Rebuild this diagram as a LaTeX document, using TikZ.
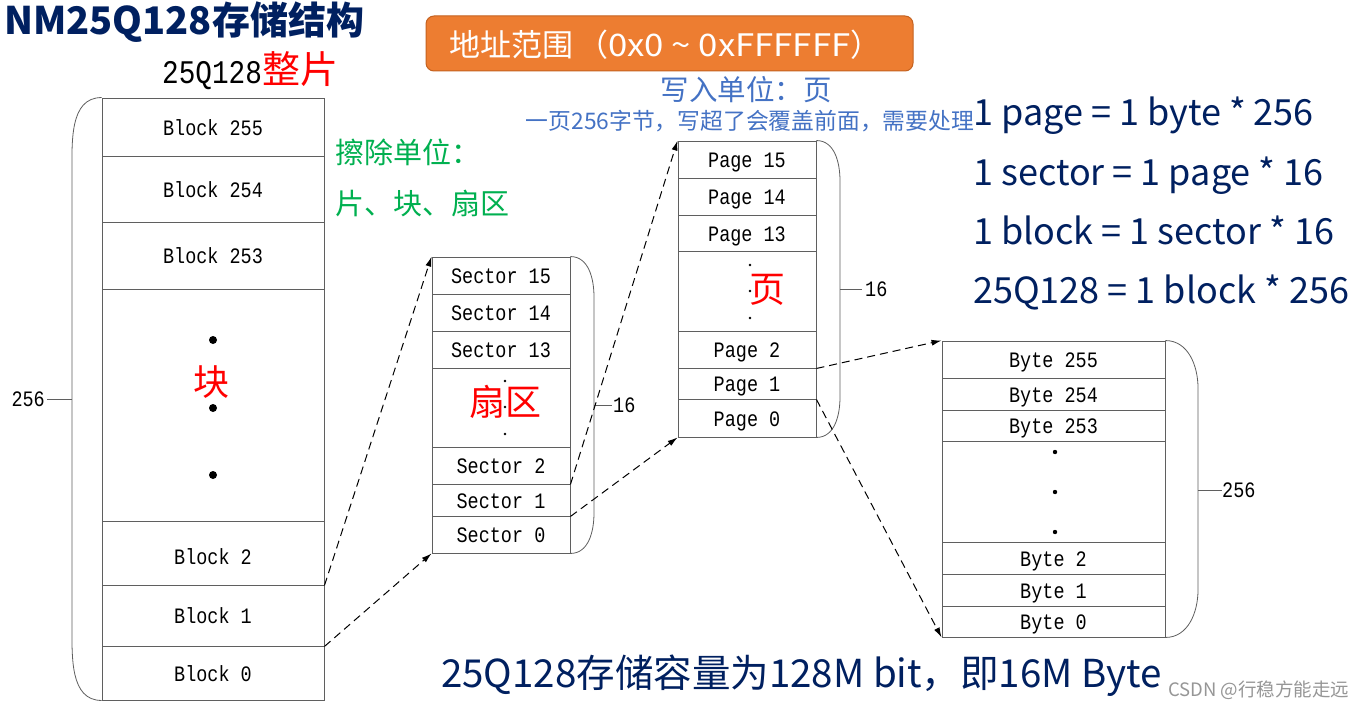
\documentclass[tikz,border=0pt]{standalone}
\usepackage{fontspec}
\setmainfont{Noto Sans CJK SC}
\newfontfamily\simsun[FakeStretch=0.84]{Liberation Mono}
\newfontfamily\widelatin[FakeStretch=1.12]{Noto Sans CJK SC}
\usetikzlibrary{arrows.meta}
\definecolor{navy}{RGB}{0,32,96}
\definecolor{orangebox}{RGB}{237,125,49}
\definecolor{orangeedge}{RGB}{196,98,32}
\definecolor{erasegreen}{RGB}{0,176,80}
\definecolor{writeblue}{RGB}{68,114,196}
\definecolor{gridc}{RGB}{95,95,95}
\definecolor{wmgray}{RGB}{150,150,150}
\newcommand\myfs[1]{\fontsize{#1}{#1}\selectfont}
\tikzset{
  cellbase/.style={draw=gridc, line width=0.9pt, inner sep=0pt, font=\simsun\myfs{22}, text height=16.8pt, text depth=0pt},
  bcell/.style={cellbase, minimum width=222pt},
  scell/.style={cellbase, minimum width=138pt},
  ycell/.style={cellbase, minimum width=223pt},
  brace/.style={draw=gridc, line width=0.8pt},
  conn/.style={dashed, dash pattern=on 8pt off 5pt, line width=1pt, -{Latex[length=10pt,width=6pt]}},
  countlbl/.style={font=\simsun\myfs{22}, inner sep=1pt},
  redlbl/.style={text=red, font=\myfs{36}, inner sep=0pt},
  formula/.style={text=navy, font=\myfs{36}, anchor=base west, inner sep=0pt}
}
\begin{document}
\begin{tikzpicture}[x=1pt,y=-1pt]
\useasboundingbox (0,0) rectangle (1365,709);
\fill[white] (0,0) rectangle (1365,709);

% title
\node[anchor=west, text=navy, font=\bfseries\myfs{38}, inner sep=0pt] (title) at (4,22) {NM25Q128存储结构};
\node[anchor=base west, inner sep=0pt] (chip) at (162,84) {{\simsun\myfs{33}25Q128}{\color{red}\myfs{38}整片}};

% address box
\node[draw=orangeedge, line width=1pt, fill=orangebox, rounded corners=8pt, minimum width=487pt, minimum height=55pt, inner sep=0pt] (addr) at (669.5,43.5) {};
\node[anchor=west, text=white, font=\myfs{31}, inner sep=0pt] (addrtxt) at (449,45) {地址范围\hspace{4pt}（{\widelatin 0x0 \textasciitilde{} 0xFFFFFF}）};

% write unit
\node[text=writeblue, font=\myfs{28.5}, inner sep=0pt] (wunit) at (746,90) {写入单位：页};
\node[text=writeblue, font=\myfs{22.8}, inner sep=0pt] (wnote) at (750,121) {一页256字节，写超了会覆盖前面，需要处理};

% erase unit
\node[anchor=west, text=erasegreen, font=\myfs{29}, inner sep=0pt] (eunit) at (335,152) {擦除单位：};
\node[anchor=west, text=erasegreen, font=\myfs{29}, inner sep=0pt] (eunits) at (335,203) {片、块、扇区};

% formulas
\node[formula] (f1) at (973,125) {1 page = 1 byte * 256};
\node[formula] (f2) at (973,185) {1 sector = 1 page * 16};
\node[formula] (f3) at (973,244) {1 block = 1 sector * 16};
\node[formula] (f4) at (973,303) {25Q128 = 1 block * 256};

% bottom
\node[anchor=west, text=navy, font=\myfs{38.5}, inner sep=0pt] (cap) at (441,676) {25Q128存储容量为128M bit，即16M Byte};
\node[anchor=west, text=wmgray, font=\myfs{18.5}, inner sep=0pt] (wm) at (1168,690) {CSDN @行稳方能走远};

% blocks
\node[bcell, minimum height=58pt] (b255) at (213,127) {Block 255};
\node[bcell, minimum height=66pt] (b254) at (213,189) {Block 254};
\node[bcell, minimum height=67pt] (b253) at (213,255.5) {Block 253};
\node[bcell, minimum height=232pt] (bdots) at (213,405) {};
\node[bcell, minimum height=64pt, text height=22.8pt] (b2) at (213,553) {Block 2};
\node[bcell, minimum height=61pt] (b1) at (213,615.5) {Block 1};
\node[bcell, minimum height=54pt] (b0) at (213,673) {Block 0};
\fill (213,340) circle (4pt);
\fill (213,408) circle (4pt);
\fill (213,475) circle (4pt);
\node[redlbl] (blbl) at (211,382) {块};

% sectors
\node[scell, minimum height=37pt] (s15) at (501,275.5) {Sector 15};
\node[scell, minimum height=37pt] (s14) at (501,312.5) {Sector 14};
\node[scell, minimum height=37pt] (s13) at (501,349.5) {Sector 13};
\node[scell, minimum height=79pt] (sdots) at (501,407.5) {};
\node[scell, minimum height=37pt] (s2) at (501,465.5) {Sector 2};
\node[scell, minimum height=32pt] (s1) at (501,500) {Sector 1};
\node[scell, minimum height=37pt] (s0) at (501,534.5) {Sector 0};
\node[redlbl] (slbl) at (505,402) {扇区};
\fill (505,381) circle (1.3pt);
\fill (505,407) circle (1.3pt);
\fill (505,434) circle (1.3pt);

% pages
\node[scell, minimum height=37pt] (p15) at (747,159.5) {Page 15};
\node[scell, minimum height=37pt] (p14) at (747,196.5) {Page 14};
\node[scell, minimum height=36pt] (p13) at (747,233) {Page 13};
\node[scell, minimum height=80pt] (pdots) at (747,291) {};
\node[scell, minimum height=37pt] (p2) at (747,349.5) {Page 2};
\node[scell, minimum height=31pt] (p1) at (747,383.5) {Page 1};
\node[scell, minimum height=38pt] (p0) at (747,418) {Page 0};
\node[redlbl] (plbl) at (767,290) {页};
\fill (750,265) circle (1.3pt);
\fill (750,291) circle (1.3pt);
\fill (750,318) circle (1.3pt);

% bytes
\node[ycell, minimum height=37pt] (y255) at (1053.5,359.5) {Byte 255};
\node[ycell, minimum height=32pt] (y254) at (1053.5,394) {Byte 254};
\node[ycell, minimum height=31pt] (y253) at (1053.5,425.5) {Byte 253};
\node[ycell, minimum height=101pt] (ydots) at (1053.5,491.5) {};
\node[ycell, minimum height=32pt] (y2) at (1053.5,558) {Byte 2};
\node[ycell, minimum height=32pt] (y1) at (1053.5,590) {Byte 1};
\node[ycell, minimum height=31pt] (y0) at (1053.5,621.5) {Byte 0};
\fill (1055,452) circle (2.2pt);
\fill (1055,492) circle (2.2pt);
\fill (1055,532) circle (2.2pt);

% braces
\draw[brace] (b255.north west) to[out=180,in=90] (72,175) -- (72,625) to[out=-90,in=180] (b0.south west);
\draw[brace] (72,399) -- (47,399);
\node[countlbl, anchor=east] (n256a) at (46,399) {256};

\draw[brace] (s15.north east) to[out=0,in=90] (594,297) -- (594,513) to[out=-90,in=0] (s0.south east);
\draw[brace] (594,405) -- (612,405);
\node[countlbl, anchor=west] (n16a) at (612,405) {16};

\draw[brace] (p15.north east) to[out=0,in=90] (840,181) -- (840,397) to[out=-90,in=0] (p0.south east);
\draw[brace] (840,289) -- (862,289);
\node[countlbl, anchor=west] (n16b) at (864,289) {16};

\draw[brace] (y255.north east) to[out=0,in=90] (1198,388) -- (1198,590) to[out=-90,in=0] (y0.south east);
\draw[brace] (1198,490) -- (1222,490);
\node[countlbl, anchor=west] (n256b) at (1221,490) {256};

% connectors
\draw[conn] (b2.south east) -- (s15.north west);
\draw[conn] (b1.south east) -- (s0.south west);
\draw[conn] (s2.south east) -- (p15.north west);
\draw[conn] (s1.south east) -- (p0.south west);
\draw[conn] (p2.south east) -- (y255.north west);
\draw[conn] (p1.south east) -- (y0.south west);
\end{tikzpicture}
\end{document}
